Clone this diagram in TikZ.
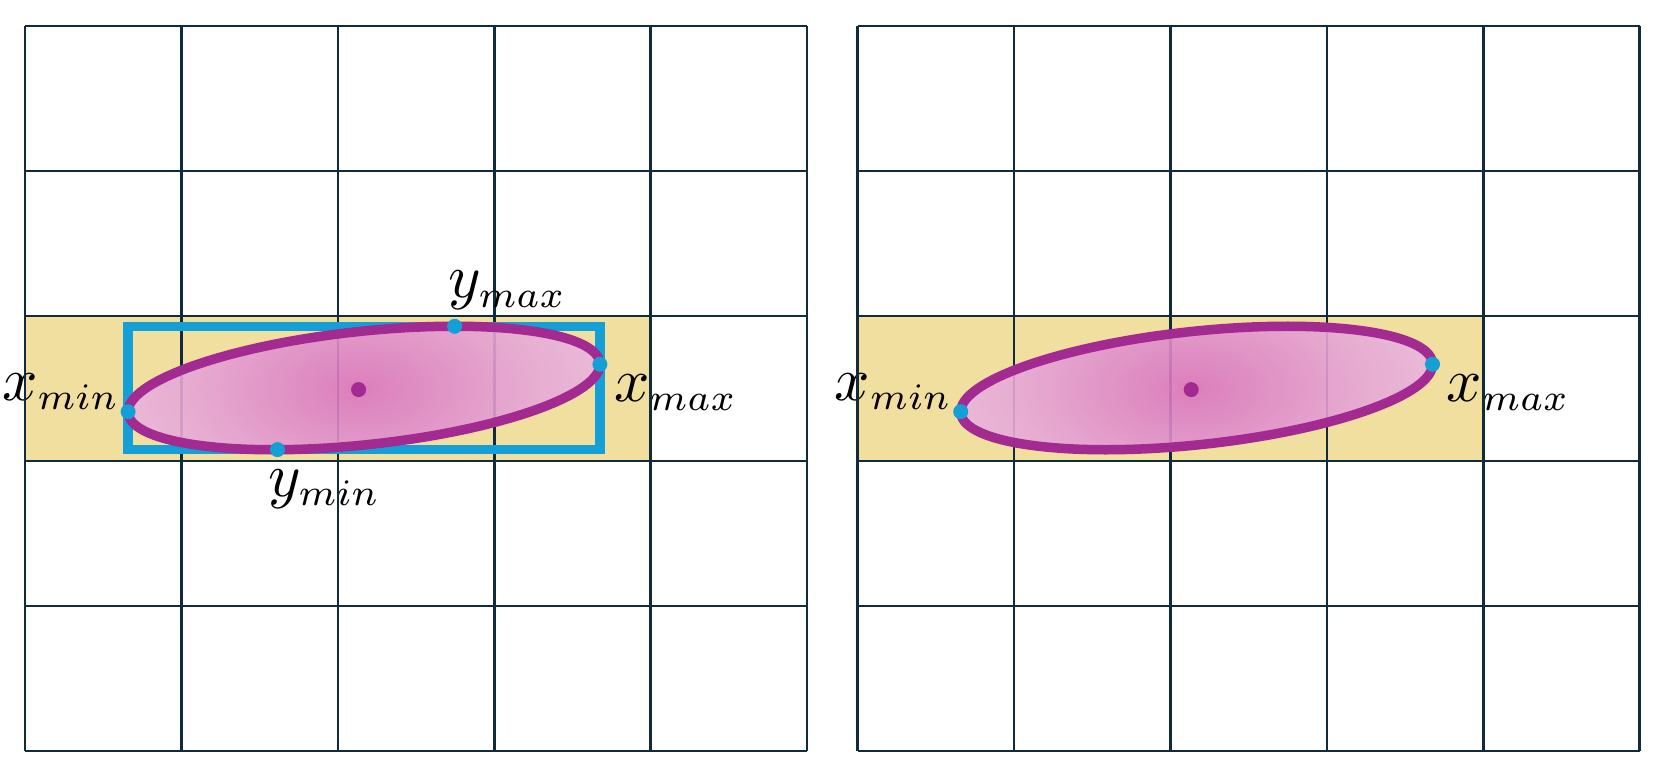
\documentclass[tikz,border=0pt]{standalone}
\usepackage{graphicx}
\definecolor{gridc}{HTML}{0F2B3C}
\definecolor{hl}{HTML}{F1DFA0}
\definecolor{bluec}{HTML}{14A0D6}
\definecolor{purp}{HTML}{A22A90}
\definecolor{pkC}{HTML}{DA74C0}
\definecolor{pkM}{HTML}{E6A8D7}
\definecolor{pkE}{HTML}{F6DAEE}
\pgfdeclareradialshading{pinkglow}{\pgfpointorigin}{color(0bp)=(pkC); color(17bp)=(pkM); color(40bp)=(pkE); color(50bp)=(pkE)}
\newcommand{\lab}[2]{\scalebox{6.2}{$#1_{\scalebox{0.86}{$\scriptstyle #2$}}$}}
\tikzset{
  gridline/.style={draw=gridc, line width=2.6pt},
  hlbox/.style={fill=hl},
  bbox/.style={draw=bluec, line width=9.5pt},
  ellline/.style={draw=purp, line width=9.5pt},
  bdot/.style={circle, fill=bluec, inner sep=0pt, minimum size=15pt},
  cdot/.style={circle, fill=purp, inner sep=0pt, minimum size=15pt},
  lbl/.style={inner sep=0pt, anchor=base west},
}
\begin{document}
\begin{tikzpicture}[x=1pt,y=-1pt]
\useasboundingbox (0,0) rectangle (1661,775);
\foreach \dx/\p in {0/L,832.6/R}{
  % highlighted row
  \fill[hlbox] (\dx+25,316) rectangle (\dx+25+4*156.4,461);
  % labels
  \node[lbl] (xminlbl\p) at (\dx+2,400) {\lab{x}{min}};
  \node[lbl] (xmaxlbl\p) at (\dx+614,401) {\lab{x}{max}};
  % grid
  \foreach \i in {0,...,5}{
    \draw[gridline] (\dx+25+\i*156.4,26) -- (\dx+25+\i*156.4,751);
    \draw[gridline] (\dx+25,26+\i*145) -- (\dx+807,26+\i*145);
  }
  % extreme points
  \coordinate (pxmin\p) at (\dx+128.1,411.7);
  \coordinate (pxmax\p) at (\dx+599.9,364.3);
  \coordinate (pymax\p) at (\dx+454.6,326.3);
  \coordinate (pymin\p) at (\dx+277.5,449.6);
}
% labels y (left only)
\node[lbl] (ymaxlbl) at (448,298) {\lab{y}{max}};
\node[lbl] (yminlbl) at (268,496.5) {\lab{y}{min}};
% grid lines crossing the y labels stay on top
\draw[gridline] (25+2*156.4,26) -- (25+2*156.4,751);
\draw[gridline] (25,316) -- (807,316);
\draw[gridline] (25,461) -- (807,461);
% bounding box (left)
\draw[bbox] (pxminL |- pymaxL) rectangle (pxmaxL |- pyminL);
% ellipses
\foreach \dx/\p in {0/L,832.6/R}{
  \begin{scope}[shift={(\dx+364,388)}]
    \begin{scope}
      \clip[rotate=6.09] (0,0) ellipse [x radius=237.2, y radius=56.7];
      \shade[shading=pinkglow, opacity=0.9] (-265,-150) rectangle (255,150);
    \end{scope}
    \draw[ellline, rotate=6.09] (0,0) ellipse [x radius=237.2, y radius=56.7];
  \end{scope}
  \node[cdot] (c\p) at (\dx+358.6,389.6) {};
  \node[bdot] (xmin\p) at (pxmin\p) {};
  \node[bdot] (xmax\p) at (pxmax\p) {};
}
\node[bdot] (ymax) at (pymaxL) {};
\node[bdot] (ymin) at (pyminL) {};
\end{tikzpicture}
\end{document}
